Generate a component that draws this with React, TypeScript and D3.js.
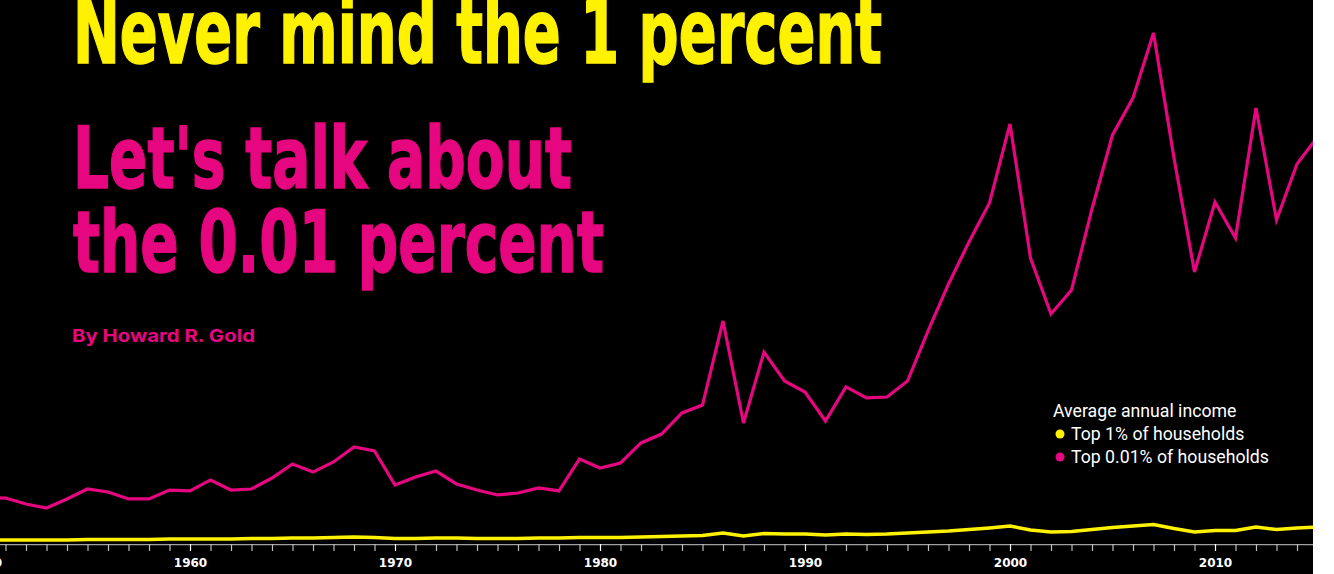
import React, { useEffect, useRef } from 'react';
import * as d3 from 'd3';

// years shown on the axis
const years = [
  1950, 1951, 1952, 1953, 1954, 1955, 1956, 1957, 1958, 1959,
  1960, 1961, 1962, 1963, 1964, 1965, 1966, 1967, 1968, 1969,
  1970, 1971, 1972, 1973, 1974, 1975, 1976, 1977, 1978, 1979,
  1980, 1981, 1982, 1983, 1984, 1985, 1986, 1987, 1988, 1989,
  1990, 1991, 1992, 1993, 1994, 1995, 1996, 1997, 1998, 1999,
  2000, 2001, 2002, 2003, 2004, 2005, 2006, 2007, 2008, 2009,
  2010, 2011, 2012, 2013, 2014, 2015,
];

// average annual income, millions of dollars
const top1 = [
  0.81, 0.81, 0.81, 0.81, 0.81, 0.84, 0.84, 0.84, 0.84, 0.875,
  0.875, 0.875, 0.875, 0.91, 0.91, 0.94, 0.94, 0.98, 1.01, 0.98,
  0.91, 0.91, 0.94, 0.94, 0.91, 0.91, 0.91, 0.94, 0.94, 0.98,
  0.98, 0.98, 1.01, 1.04, 1.08, 1.11, 1.28, 1.08, 1.25, 1.21,
  1.21, 1.14, 1.21, 1.18, 1.21, 1.28, 1.35, 1.41, 1.51, 1.62,
  1.75, 1.48, 1.35, 1.38, 1.51, 1.65, 1.75, 1.85, 1.58, 1.35,
  1.45, 1.45, 1.68, 1.51, 1.62, 1.68,
];

const top001 = [
  3.70, 3.63, 3.23, 2.96, 3.57, 4.24, 4.04, 3.57, 3.57, 4.17,
  4.11, 4.85, 4.17, 4.24, 4.98, 5.92, 5.38, 6.06, 7.07, 6.80,
  4.51, 5.05, 5.45, 4.58, 4.17, 3.84, 3.97, 4.31, 4.11, 6.26,
  5.65, 5.99, 7.34, 7.94, 9.36, 9.89, 15.55, 8.68, 13.46, 11.51,
  10.77, 8.82, 11.11, 10.37, 10.43, 11.51, 14.87, 18.04, 20.87, 23.49,
  28.81, 19.79, 16.02, 17.63, 23.09, 28.07, 30.56, 34.93, 26.52, 18.85,
  23.56, 21.13, 29.88, 22.35, 26.12, 27.93,
];

const decadeLabels = [1950, 1960, 1970, 1980, 1990, 2000, 2010];

const legendTitle = 'Average annual income';
const seriesNames = ['Top 1% of households', 'Top 0.01% of households'];

const W = 1334;
const H = 574;
const panelW = 1313;
const yellow = '#fff200';
const pink = '#e6067f';

const App: React.FC = () => {
  const container = useRef<HTMLDivElement>(null);

  useEffect(() => {
    const root = d3.select(container.current);
    root.selectAll('*').remove();

    const svg = root.append('svg')
      .attr('width', W)
      .attr('height', H)
      .style('display', 'block');

    svg.append('rect').attr('width', panelW).attr('height', H).attr('fill', '#000');
    svg.append('clipPath').attr('id', 'panel')
      .append('rect').attr('width', panelW).attr('height', H);

    const x = d3.scaleLinear().domain([1950, 2015]).range([-15, 1317.5]);
    const y = d3.scaleLinear().domain([0, 35]).range([552, 32]);

    // titles
    const titleFont = '"Liberation Sans Narrow", "DejaVu Sans Condensed", "DejaVu Sans", sans-serif';
    svg.append('text')
      .attr('x', 73).attr('y', 63)
      .attr('fill', yellow)
      .attr('stroke', yellow)
      .attr('stroke-width', 1.5)
      .attr('font-family', titleFont)
      .attr('font-weight', 'bold')
      .attr('font-size', 89)
      .attr('textLength', 809)
      .attr('lengthAdjust', 'spacingAndGlyphs')
      .text('Never mind the 1 percent');

    const sub = [
      { t: "Let's talk about", yy: 188, len: 499 },
      { t: 'the 0.01 percent', yy: 272, len: 531 },
    ];
    sub.forEach((s) => {
      svg.append('text')
        .attr('x', 73).attr('y', s.yy)
        .attr('fill', pink)
        .attr('stroke', pink)
        .attr('stroke-width', 1.5)
        .attr('font-family', titleFont)
        .attr('font-weight', 'bold')
        .attr('font-size', 86)
        .attr('textLength', s.len)
        .attr('lengthAdjust', 'spacingAndGlyphs')
        .text(s.t);
    });

    svg.append('text')
      .attr('x', 72).attr('y', 342)
      .attr('fill', pink)
      .attr('font-family', 'Inter, "Noto Sans", sans-serif')
      .attr('font-weight', 700)
      .attr('font-size', 18)
      .attr('textLength', 183)
      .attr('lengthAdjust', 'spacingAndGlyphs')
      .text('By Howard R. Gold');

    // axis
    const axis = d3.axisBottom(x)
      .tickValues(years)
      .tickSize(7)
      .tickSizeOuter(0)
      .tickFormat((d) => (decadeLabels.includes(+d) ? String(d) : ''));

    const gAxis = svg.append('g')
      .attr('clip-path', 'url(#panel)')
      .attr('transform', 'translate(0,544)')
      .call(axis);
    gAxis.select('.domain').attr('stroke', '#a0a0a0').attr('stroke-width', 1.5);
    gAxis.selectAll('.tick line')
      .attr('stroke', (d: any) => (decadeLabels.includes(+d) ? '#ffffff' : '#bdbdbd'))
      .attr('stroke-width', 1.2);
    gAxis.selectAll('.tick text')
      .attr('fill', '#fff')
      .attr('y', 14.5)
      .attr('font-family', '"DejaVu Sans", sans-serif')
      .attr('font-weight', 'bold')
      .attr('font-size', 12);

    // lines
    const line = d3.line<number>()
      .x((_, i) => x(years[i]))
      .y((d) => y(d));

    const g = svg.append('g').attr('clip-path', 'url(#panel)');
    g.append('path')
      .datum(top001)
      .attr('fill', 'none')
      .attr('stroke', pink)
      .attr('stroke-width', 3.2)
      .attr('stroke-linejoin', 'miter')
      .attr('d', line);
    g.append('path')
      .datum(top1)
      .attr('fill', 'none')
      .attr('stroke', yellow)
      .attr('stroke-width', 3.5)
      .attr('d', line);

    // legend
    const legendFont = 'Roboto, "Liberation Sans", sans-serif';
    svg.append('text')
      .attr('x', 1053).attr('y', 417)
      .attr('fill', '#fff')
      .attr('font-family', legendFont)
      .attr('font-size', 17.7)
      .text(legendTitle);
    [yellow, pink].forEach((c, i) => {
      const yy = 440 + i * 23;
      svg.append('circle')
        .attr('cx', 1060).attr('cy', yy - 6)
        .attr('r', 4.5)
        .attr('fill', c);
      svg.append('text')
        .attr('x', 1071).attr('y', yy)
        .attr('fill', '#fff')
        .attr('font-family', legendFont)
        .attr('font-size', 17.7)
        .text(seriesNames[i]);
    });
  }, []);

  return <div ref={container} style={{ position: 'absolute', left: 0, top: 0 }} />;
};

export default App;
